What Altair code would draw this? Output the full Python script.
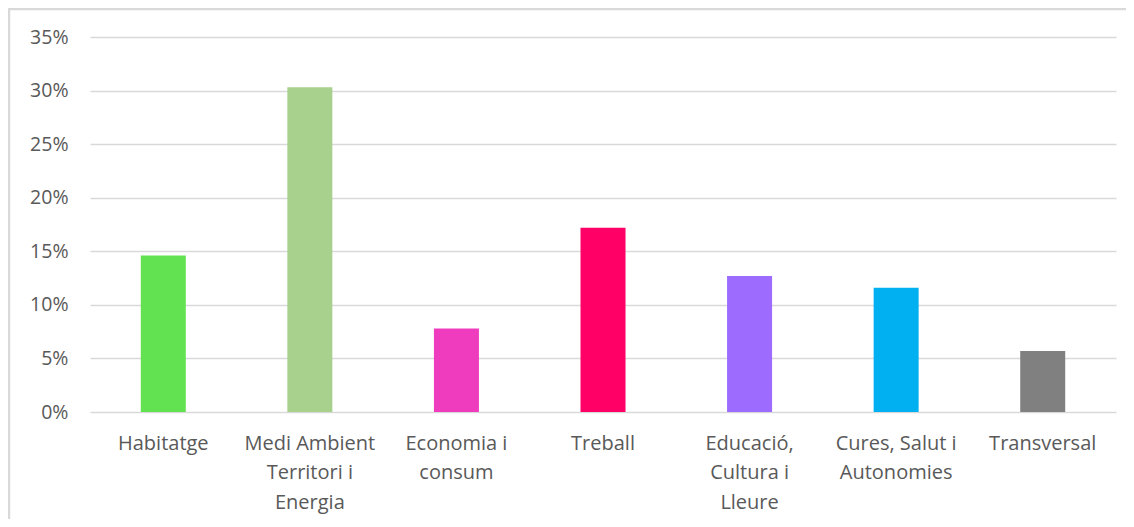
import altair as alt
import pandas as pd

categories = [
    "Habitatge",
    "Medi Ambient|Territori i|Energia",
    "Economia i|consum",
    "Treball",
    "Educació,|Cultura i|Lleure",
    "Cures, Salut i|Autonomies",
    "Transversal",
]
values = [0.146, 0.303, 0.078, 0.172, 0.127, 0.116, 0.057]
colors = ["#62E251", "#A9D18E", "#EF3CBF", "#FF0066", "#9D6BFE", "#00B0F0", "#808080"]

df = pd.DataFrame({"cat": categories, "val": values, "col": colors})

W, H = 1026, 375

bars = alt.Chart(df).mark_bar(size=45).encode(
    x=alt.X(
        "cat:N",
        sort=None,
        scale=alt.Scale(paddingInner=0, paddingOuter=0),
        axis=alt.Axis(
            title=None,
            labelAngle=0,
            labelExpr="split(datum.label, '|')",
            labelFont="Open Sans",
            labelFontSize=20,
            labelColor="#595959",
            labelLineHeight=29.5,
            labelPadding=21,
            labelLimit=300,
            ticks=False,
            domain=False,
            grid=False,
        ),
    ),
    y=alt.Y(
        "val:Q",
        scale=alt.Scale(domain=[0, 0.35], nice=False),
        axis=alt.Axis(
            title=None,
            format=".0%",
            values=[0, 0.05, 0.10, 0.15, 0.20, 0.25, 0.30, 0.35],
            labelFont="Open Sans",
            labelFontSize=19.5,
            labelColor="#595959",
            labelPadding=22,
            ticks=False,
            domain=False,
            grid=True,
            gridColor="#d9d9d9",
            gridWidth=1.5,
        ),
    ),
    color=alt.Color("col:N", scale=None, legend=None),
)

border = alt.Chart(alt.Data(values=[{"a": 1}])).mark_rect(
    filled=False, stroke="#d9d9d9", strokeWidth=2.5
).encode(
    x=alt.value(-81),
    x2=alt.value(W + 200),
    y=alt.value(-28),
    y2=alt.value(H + 300),
)

chart = alt.layer(border, bars).properties(
    width=W,
    height=H,
    autosize=alt.AutoSizeParams(type="none"),
    padding={"left": 82, "top": 29, "right": 10, "bottom": 107},
    background="white",
).configure_view(stroke=None)

chart.save("out.html", embed_options={"renderer": "svg", "actions": False})
